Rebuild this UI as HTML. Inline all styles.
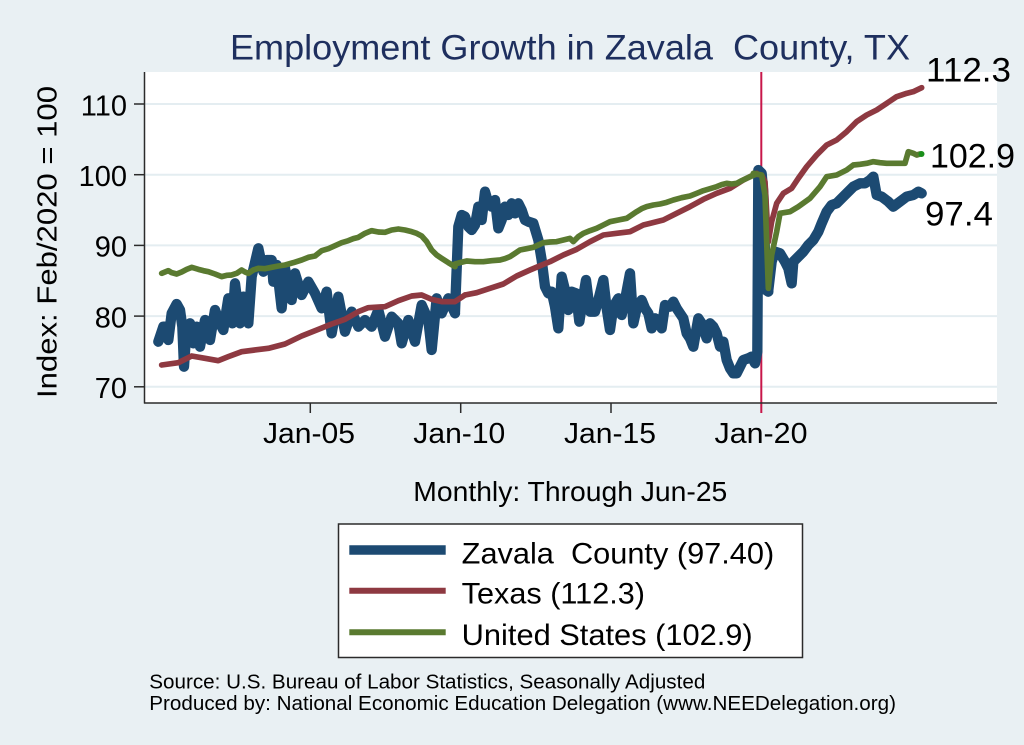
<!DOCTYPE html>
<html>
<head>
<meta charset="utf-8">
<style>
html,body{margin:0;padding:0;background:#e9f0f3;}
svg{display:block;}
text{font-family:"Liberation Sans",Arial,sans-serif;}
</style>
</head>
<body>
<svg width="1024" height="745" viewBox="0 0 1024 745" xmlns="http://www.w3.org/2000/svg">
<rect x="0" y="0" width="1024" height="745" fill="#e9f0f3"/>
<!-- plot area -->
<rect x="145" y="72" width="852" height="331" fill="#ffffff"/>
<!-- grid -->
<g stroke="#e4edf1" stroke-width="2">
<line x1="145" y1="104" x2="997" y2="104"/>
<line x1="145" y1="174.7" x2="997" y2="174.7"/>
<line x1="145" y1="245.4" x2="997" y2="245.4"/>
<line x1="145" y1="316.1" x2="997" y2="316.1"/>
<line x1="145" y1="386.8" x2="997" y2="386.8"/>
</g>
<!-- vertical marker -->
<line x1="761.3" y1="72" x2="761.3" y2="413" stroke="#c8174a" stroke-width="2"/>

<!-- Blue series -->
<g fill="none" stroke="#1c4a72" stroke-linejoin="round" stroke-linecap="round">
<g transform="translate(145,180) scale(0.33333)" stroke-width="31">
<polyline points="40,485 55,440 65,440 70,480 80,400 95,372 105,390 112,440 117,560 125,440 135,430 145,490 155,440 165,500 180,420 195,480 210,390 225,430 235,450 250,355 262,430 270,310 285,430 295,350 310,430 320,290 340,205 355,275 365,240 380,240 385,305 395,255 410,385 420,265 440,360 450,280 470,345 490,305 510,340 530,385 545,335 560,460 580,350 600,455 620,395 640,440 660,420 680,440 700,390 720,470 740,410 760,430 770,490 790,420 810,485 830,375 850,420 860,510 875,355 890,400 910,355 930,400"/>
</g>
<g transform="translate(450,160) scale(0.33333)" stroke-width="31">
<polyline points="15,455 25,200 35,165 45,170 55,200 65,210 75,195 85,140 95,180 105,95 115,130 125,140 135,120 145,205 155,180 165,140 175,165 185,130 195,160 205,130 215,150 225,180 235,185 250,190 265,240 275,300 285,380 295,400 305,395 315,440 325,505 335,350 345,390 355,450 365,395 378,400 388,485 398,420 408,360 420,455 435,455 445,420 460,360 470,445 480,510 490,440 505,415 515,465 525,420 540,340 550,490 560,445 575,420 585,445 595,460 605,505 615,475 625,480 635,505 645,435 660,440 670,425 680,445 690,460 700,475 710,520 720,535 730,560 745,475 755,490 770,535 780,490 790,500 800,520 810,560 820,545 830,600 840,625 850,640 860,640 870,620 880,600 895,595 905,590 915,610 922,575 925,30 935,40 940,100 948,390 955,395"/>
</g>
<g transform="translate(740,75) scale(0.33333)" stroke-width="31">
<polyline points="85,645 95,560 105,530 120,535 135,560 145,580 155,625 160,560 175,545 190,530 205,510 220,495 235,470 245,445 260,410 275,390 290,385 305,370 320,355 340,335 360,325 375,325 390,315 400,305 410,360 425,365 445,380 460,395 480,380 500,365 520,360 535,350 545,355"/>
</g>
</g>

<!-- Red series -->
<g fill="none" stroke="#8e3941" stroke-linejoin="round" stroke-linecap="round">
<g transform="translate(145,180) scale(0.33333)" stroke-width="17">
<polyline points="50,555 100,548 140,528 180,535 220,542 250,530 290,515 330,510 370,505 420,492 470,468 520,448 560,432 600,418 640,395 670,383 720,380 760,362 800,348 830,345 860,358 890,365 930,365 960,345"/>
</g>
<g transform="translate(450,160) scale(0.33333)" stroke-width="17">
<polyline points="45,405 80,398 120,385 160,372 200,348 240,330 280,313 300,305 340,285 380,268 420,245 460,225 500,220 540,215 580,195 600,190 640,180 680,160 720,140 760,118 800,100 840,85 880,60 920,40"/>
</g>
<g transform="translate(740,75) scale(0.33333)" stroke-width="17">
<polyline points="50,298 65,300 75,320 85,500 95,440 110,385 130,355 155,340 175,310 200,275 230,240 260,210 290,195 320,170 350,140 380,120 410,105 440,85 470,65 500,55 520,50 545,38"/>
</g>
</g>

<!-- Green series -->
<g fill="none" stroke="#5a7a30" stroke-linejoin="round" stroke-linecap="round">
<g transform="translate(145,180) scale(0.33333)" stroke-width="17">
<polyline points="50,280 60,276 70,272 80,278 95,282 110,276 125,268 140,262 160,268 175,272 190,275 210,282 230,290 245,286 260,285 275,280 290,270 300,276 310,280 325,270 340,265 360,266 380,262 400,258 420,255 445,248 470,240 490,232 510,228 530,212 550,206 570,197 590,188 610,182 625,176 640,172 660,160 680,152 700,156 720,157 740,150 760,147 780,150 800,155 815,160 830,168 845,185 860,210 875,225 890,235 910,248 930,260"/>
</g>
<g transform="translate(450,160) scale(0.33333)" stroke-width="17">
<polyline points="15,312 30,308 50,303 75,305 100,305 125,302 150,300 165,296 180,290 195,280 210,270 230,266 250,262 265,255 280,248 300,246 320,245 340,240 360,235 370,245 385,230 400,220 420,212 440,205 460,195 480,185 505,180 530,175 545,165 560,155 575,146 590,140 610,135 630,132 650,127 670,120 695,113 720,108 740,100 760,92 780,86 800,80 815,74 830,70 845,72 860,70 875,62 890,55 905,48 920,42"/>
</g>
<g transform="translate(740,75) scale(0.33333)" stroke-width="17">
<polyline points="40,295 65,300 75,360 85,640 95,540 110,470 120,415 150,410 175,395 210,370 240,335 260,305 290,300 320,285 340,270 360,268 380,265 400,260 420,263 440,265 470,265 495,265 505,230 520,235 530,240 540,237"/>
</g>
</g>
<circle cx="921.5" cy="154" r="3" fill="#1a8f1a"/>

<!-- axes -->
<g stroke="#2b2b2b" stroke-width="1.5" fill="none">
<line x1="144.5" y1="72" x2="144.5" y2="403.5"/>
<line x1="144" y1="403" x2="997" y2="403"/>
<line x1="134" y1="104" x2="144.5" y2="104"/>
<line x1="134" y1="174.7" x2="144.5" y2="174.7"/>
<line x1="134" y1="245.4" x2="144.5" y2="245.4"/>
<line x1="134" y1="316.1" x2="144.5" y2="316.1"/>
<line x1="134" y1="386.8" x2="144.5" y2="386.8"/>
<line x1="310.3" y1="403" x2="310.3" y2="413"/>
<line x1="460.7" y1="403" x2="460.7" y2="413"/>
<line x1="611" y1="403" x2="611" y2="413"/>
</g>

<!-- y tick labels -->
<g font-size="29" fill="#000" text-anchor="end">
<text x="127" y="115.5">110</text>
<text x="127" y="186">100</text>
<text x="127" y="256.7">90</text>
<text x="127" y="327.4">80</text>
<text x="127" y="398">70</text>
</g>
<!-- y axis title -->
<text transform="translate(56.5,398) rotate(-90)" font-size="28" fill="#000" textLength="312" lengthAdjust="spacingAndGlyphs">Index: Feb/2020 = 100</text>

<!-- x tick labels -->
<g font-size="29" fill="#000">
<text x="263" y="443" textLength="92" lengthAdjust="spacingAndGlyphs">Jan-05</text>
<text x="413.3" y="443" textLength="92" lengthAdjust="spacingAndGlyphs">Jan-10</text>
<text x="564" y="443" textLength="92" lengthAdjust="spacingAndGlyphs">Jan-15</text>
<text x="714.5" y="443" textLength="93" lengthAdjust="spacingAndGlyphs">Jan-20</text>
</g>
<text x="413.3" y="501" font-size="28" fill="#000" textLength="314" lengthAdjust="spacingAndGlyphs">Monthly: Through Jun-25</text>

<!-- title -->
<text x="230" y="59.5" font-size="35" fill="#1e2f5e" textLength="680" lengthAdjust="spacingAndGlyphs" xml:space="preserve">Employment Growth in Zavala  County, TX</text>

<!-- end labels -->
<text x="926" y="81.7" font-size="34" fill="#000" textLength="85" lengthAdjust="spacingAndGlyphs">112.3</text>
<text x="930" y="167.3" font-size="34" fill="#000" textLength="85" lengthAdjust="spacingAndGlyphs">102.9</text>
<text x="925" y="225.7" font-size="34" fill="#000" textLength="68" lengthAdjust="spacingAndGlyphs">97.4</text>

<!-- legend -->
<rect x="338.5" y="524" width="464" height="133.5" fill="#ffffff" stroke="#2b2b2b" stroke-width="1.5"/>
<line x1="349.3" y1="550" x2="445.7" y2="550" stroke="#1c4a72" stroke-width="9.5"/>
<line x1="349.3" y1="590.7" x2="445.7" y2="590.7" stroke="#8e3941" stroke-width="6"/>
<line x1="349.3" y1="632.3" x2="445.7" y2="632.3" stroke="#5a7a30" stroke-width="6"/>
<g font-size="30" fill="#000">
<text x="461.7" y="563.3" textLength="312.5" lengthAdjust="spacingAndGlyphs" xml:space="preserve">Zavala  County (97.40)</text>
<text x="461.7" y="603.5" textLength="183.3" lengthAdjust="spacingAndGlyphs">Texas (112.3)</text>
<text x="461.7" y="645" textLength="291" lengthAdjust="spacingAndGlyphs">United States (102.9)</text>
</g>

<!-- footer -->
<g font-size="20" fill="#000">
<text x="149.3" y="688.3" textLength="556" lengthAdjust="spacingAndGlyphs">Source: U.S. Bureau of Labor Statistics, Seasonally Adjusted</text>
<text x="149.3" y="710" textLength="746.7" lengthAdjust="spacingAndGlyphs">Produced by: National Economic Education Delegation (www.NEEDelegation.org)</text>
</g>
</svg>
</body>
</html>
